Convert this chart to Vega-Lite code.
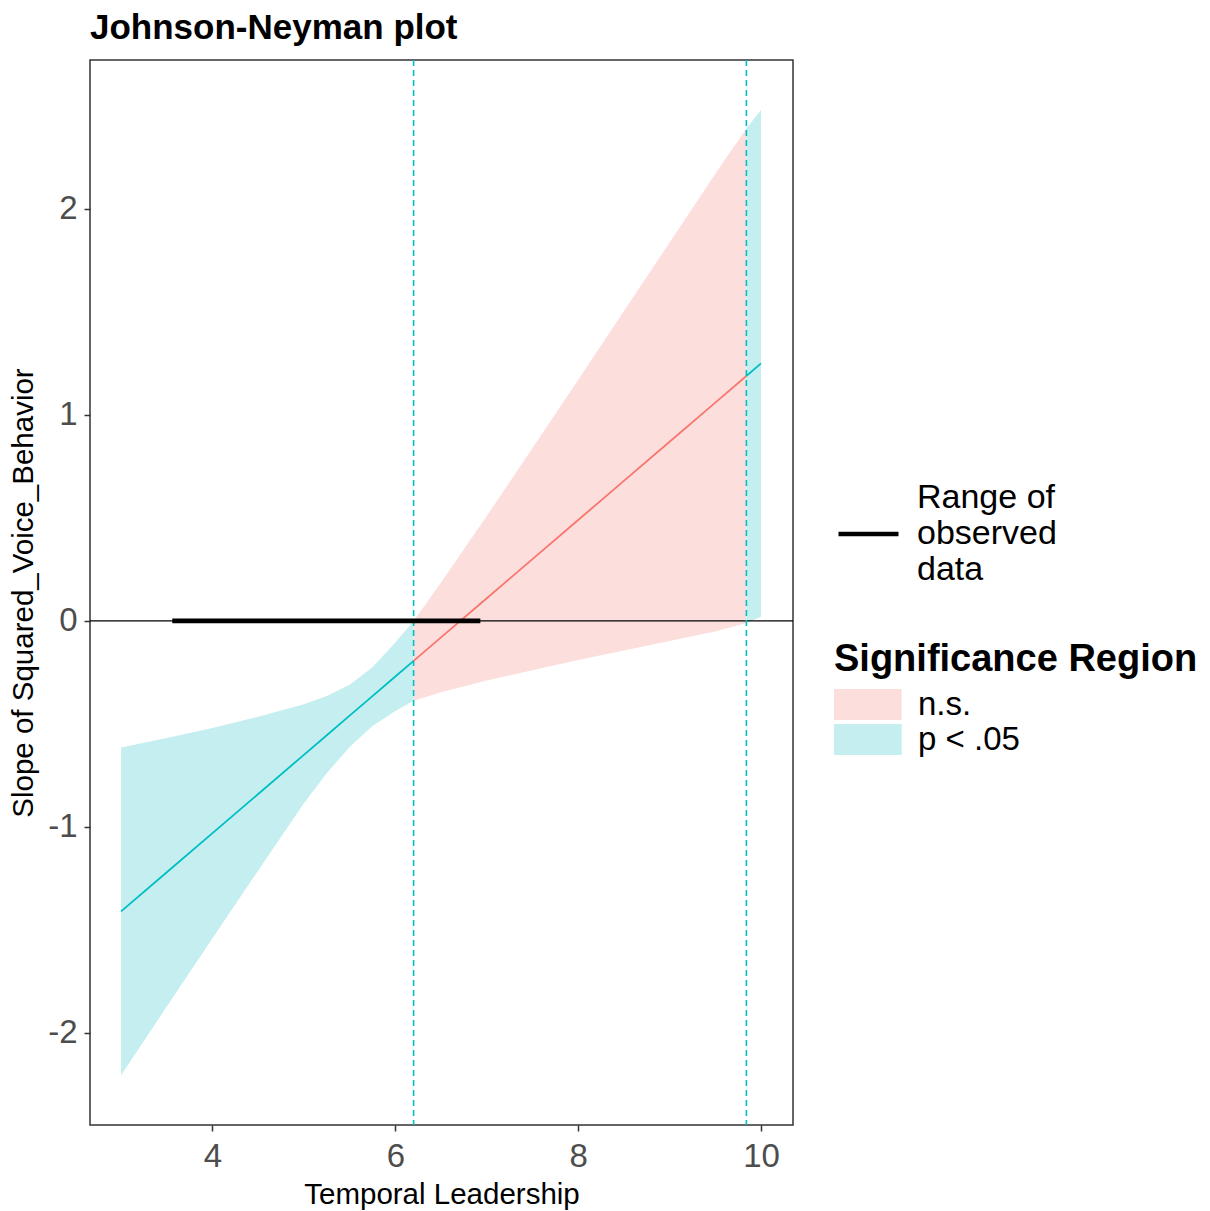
{
  "$schema": "https://vega.github.io/schema/vega-lite/v6.json",
  "width": 703,
  "height": 1065,
  "autosize": {"type": "none"},
  "padding": {"left": 90, "top": 60, "right": 417, "bottom": 86},
  "background": "white",
  "title": {"text": "Johnson-Neyman plot", "anchor": "start", "frame": "group", "font": "Liberation Sans", "fontSize": 35, "fontWeight": "bold", "color": "black", "offset": 13},
  "config": {
    "view": {"stroke": "#333333", "strokeWidth": 1.5},
    "font": "Liberation Sans",
    "axis": {"domain": false, "grid": false, "ticks": true, "tickColor": "#333333", "tickWidth": 1.5, "tickSize": 6, "labelFont": "Liberation Sans", "labelFontSize": 33, "labelColor": "#4D4D4D", "titleFont": "Liberation Sans", "titleFontSize": 29.5, "titleFontWeight": "normal", "titleColor": "black", "labelExpr": "toString(datum.value)"},
    "axisX": {"labelPadding": 9, "titlePadding": 7},
    "axisY": {"labelPadding": 7, "titlePadding": 9},
    "legend": {"labelFont": "Liberation Sans", "labelColor": "black", "titleFont": "Liberation Sans", "padding": 0, "labelLimit": 0, "titleLimit": 500}
  },
  "datasets": {
    "band": [
      {"seg": "A", "sig": "p < .05", "x": 3.0, "est": -1.41, "lo": -2.205, "hi": -0.615},
      {"seg": "A", "sig": "p < .05", "x": 3.5, "est": -1.22, "lo": -1.872, "hi": -0.568},
      {"seg": "A", "sig": "p < .05", "x": 4.0, "est": -1.03, "lo": -1.54, "hi": -0.52},
      {"seg": "A", "sig": "p < .05", "x": 4.5, "est": -0.84, "lo": -1.212, "hi": -0.465},
      {"seg": "A", "sig": "p < .05", "x": 5.0, "est": -0.65, "lo": -0.885, "hi": -0.405},
      {"seg": "A", "sig": "p < .05", "x": 5.25, "est": -0.555, "lo": -0.74, "hi": -0.365},
      {"seg": "A", "sig": "p < .05", "x": 5.5, "est": -0.46, "lo": -0.612, "hi": -0.31},
      {"seg": "A", "sig": "p < .05", "x": 5.75, "est": -0.365, "lo": -0.51, "hi": -0.225},
      {"seg": "A", "sig": "p < .05", "x": 6.0, "est": -0.27, "lo": -0.437, "hi": -0.105},
      {"seg": "A", "sig": "p < .05", "x": 6.2, "est": -0.194, "lo": -0.388, "hi": 0.0},
      {"seg": "B", "sig": "n.s.", "x": 6.2, "est": -0.194, "lo": -0.388, "hi": 0.0},
      {"seg": "B", "sig": "n.s.", "x": 6.5, "est": -0.08, "lo": -0.346, "hi": 0.186},
      {"seg": "B", "sig": "n.s.", "x": 7.0, "est": 0.11, "lo": -0.289, "hi": 0.509},
      {"seg": "B", "sig": "n.s.", "x": 7.5, "est": 0.3, "lo": -0.239, "hi": 0.839},
      {"seg": "B", "sig": "n.s.", "x": 8.0, "est": 0.49, "lo": -0.19, "hi": 1.17},
      {"seg": "B", "sig": "n.s.", "x": 8.5, "est": 0.68, "lo": -0.144, "hi": 1.504},
      {"seg": "B", "sig": "n.s.", "x": 9.0, "est": 0.87, "lo": -0.097, "hi": 1.837},
      {"seg": "B", "sig": "n.s.", "x": 9.5, "est": 1.06, "lo": -0.051, "hi": 2.171},
      {"seg": "B", "sig": "n.s.", "x": 9.84, "est": 1.189, "lo": -0.01, "hi": 2.39},
      {"seg": "C", "sig": "p < .05", "x": 9.84, "est": 1.189, "lo": -0.01, "hi": 2.39},
      {"seg": "C", "sig": "p < .05", "x": 10.0, "est": 1.25, "lo": 0.02, "hi": 2.48}
    ],
    "observed": [{"x1": 3.56, "x2": 6.93, "y": 0, "key": "Range of observed data"}],
    "jn": [{"bound": 6.2}, {"bound": 9.84}],
    "zero": [{"y": 0}]
  },
  "layer": [
    {
      "data": {"name": "band"},
      "mark": {"type": "area", "opacity": 1},
      "encoding": {
        "x": {"field": "x", "type": "quantitative", "scale": {"domain": [2.66, 10.35], "nice": false, "zero": false}, "axis": {"values": [4, 6, 8, 10], "title": "Temporal Leadership"}},
        "y": {"field": "lo", "type": "quantitative", "scale": {"domain": [-2.447, 2.723], "nice": false, "zero": false}, "axis": {"values": [-2, -1, 0, 1, 2], "title": "Slope of Squared_Voice_Behavior"}},
        "y2": {"field": "hi"},
        "fill": {"field": "sig", "type": "nominal", "scale": {"domain": ["n.s.", "p < .05"], "range": ["#FCDFDD", "#C5EEF0"]},
          "legend": {"orient": "none", "legendX": 744, "legendY": 581, "title": "Significance Region", "titleFontSize": 38, "titleFontWeight": "bold", "titleColor": "black", "titlePadding": 9, "symbolType": "M-1,-0.94H3.1V0.94H-1Z", "symbolSize": 1089, "symbolStrokeWidth": 0, "symbolOpacity": 1, "labelFontSize": 33, "labelOffset": 51, "rowPadding": 1}},
        "detail": {"field": "seg", "type": "nominal"}
      }
    },
    {
      "data": {"name": "zero"},
      "mark": {"type": "rule", "color": "black", "strokeWidth": 1.2},
      "encoding": {"y": {"field": "y", "type": "quantitative"}}
    },
    {
      "data": {"name": "jn"},
      "mark": {"type": "rule", "color": "#00BFC4", "strokeWidth": 1.6, "strokeDash": [6, 4]},
      "encoding": {"x": {"field": "bound", "type": "quantitative"}}
    },
    {
      "data": {"name": "band"},
      "mark": {"type": "line", "strokeWidth": 1.8},
      "encoding": {
        "x": {"field": "x", "type": "quantitative"},
        "y": {"field": "est", "type": "quantitative"},
        "color": {"field": "sig", "type": "nominal", "scale": {"domain": ["n.s.", "p < .05"], "range": ["#F8766D", "#00BFC4"]}, "legend": null},
        "detail": {"field": "seg", "type": "nominal"}
      }
    },
    {
      "data": {"name": "observed"},
      "mark": {"type": "rule", "strokeWidth": 4.8, "strokeCap": "butt"},
      "encoding": {
        "x": {"field": "x1", "type": "quantitative"},
        "x2": {"field": "x2"},
        "y": {"field": "y", "type": "quantitative"},
        "stroke": {"field": "key", "type": "nominal", "scale": {"range": ["black"]},
          "legend": {"orient": "none", "legendX": 746, "legendY": 405, "title": null, "symbolType": "M-1,1.22H1", "symbolSize": 3600, "symbolStrokeWidth": 4.5, "labelExpr": "['Range of', 'observed', 'data']", "labelFontSize": 34, "labelOffset": 16}}
      }
    }
  ]
}
